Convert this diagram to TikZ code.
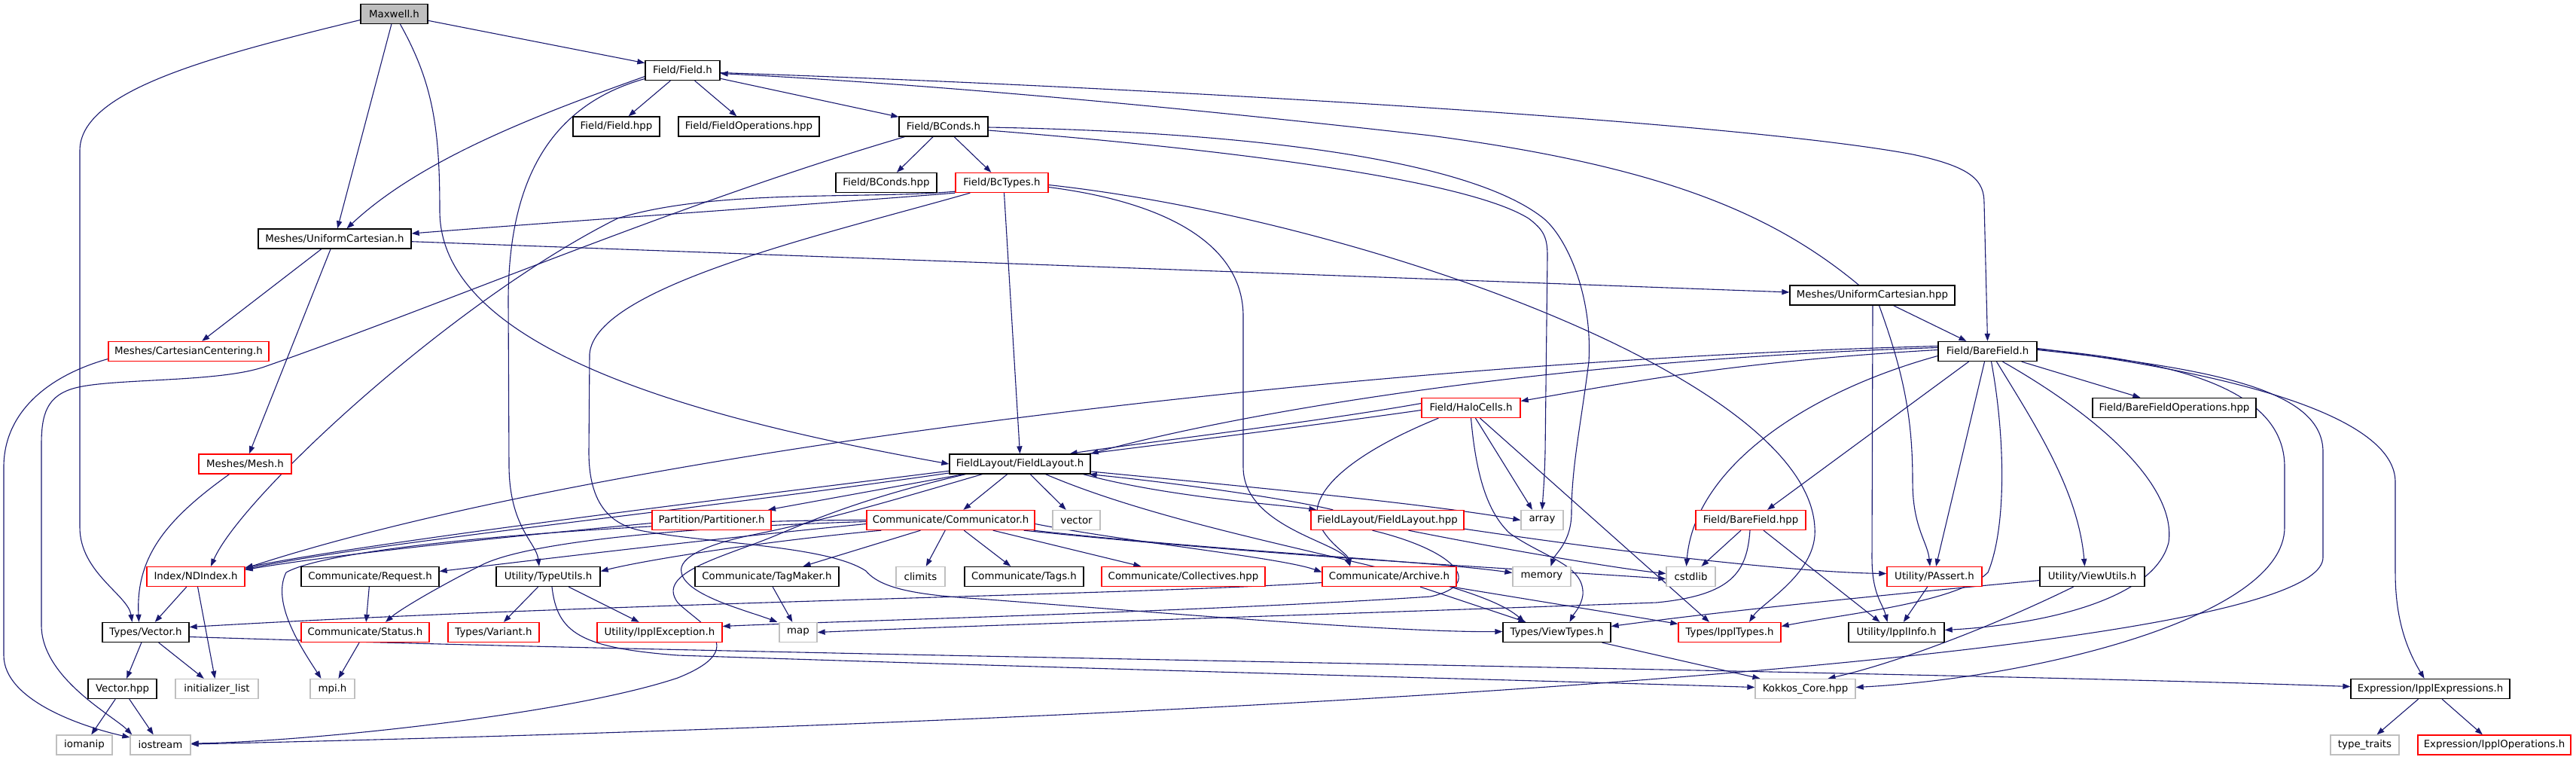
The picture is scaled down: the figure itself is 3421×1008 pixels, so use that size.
\documentclass[tikz,border=0pt]{standalone}
\usepackage{fontspec}
\setmainfont{DejaVu Sans}
\usetikzlibrary{arrows.meta,calc,backgrounds}
\definecolor{edgec}{HTML}{191970}
\definecolor{grayb}{HTML}{BFBFBF}
\tikzset{
  nd/.style={draw=black, line width=0.65pt, rectangle, inner sep=0pt, minimum height=13pt, font=\fontsize{6.67}{8}\selectfont, fill=white},
  rn/.style={nd, draw=red},
  gn/.style={nd, draw=grayb},
  e/.style={draw=edgec, line width=0.55pt, -{Triangle[length=5pt,width=3.6pt]}},
}
\begin{document}
\begin{tikzpicture}[x=0.5pt,y=-0.5pt]
\useasboundingbox (0,0) rectangle (3421,1008);
\node[nd, fill=grayb, minimum width=44.5pt] (maxwell) at (523.5,18.5) {Maxwell.h};
\node[nd, minimum width=49.5pt] (fieldh) at (906.5,93.5) {Field/Field.h};
\node[nd, minimum width=57.5pt] (fieldhpp) at (818.5,168) {Field/Field.hpp};
\node[nd, minimum width=93.5pt] (fieldops) at (994.5,168) {Field/FieldOperations.hpp};
\node[nd, minimum width=59pt] (bconds) at (1253,168) {Field/BConds.h};
\node[nd, minimum width=67pt] (bcondshpp) at (1177,242.5) {Field/BConds.hpp};
\node[rn, minimum width=61.5pt] (bctypes) at (1330.5,242.5) {Field/BcTypes.h};
\node[nd, minimum width=101.5pt] (uch) at (444.5,317) {Meshes/UniformCartesian.h};
\node[rn, minimum width=106.5pt] (cartcent) at (250.5,466.5) {Meshes/CartesianCentering.h};
\node[rn, minimum width=61.5pt] (mesh) at (325.5,616) {Meshes/Mesh.h};
\node[nd, minimum width=93.5pt] (flh) at (1354.5,616) {FieldLayout/FieldLayout.h};
\node[nd, minimum width=109.5pt] (uchpp) at (2486.5,392) {Meshes/UniformCartesian.hpp};
\node[rn, minimum width=65.5pt] (halo) at (1953.5,541.5) {Field/HaloCells.h};
\node[nd, minimum width=65.5pt] (barefield) at (2639.5,466.5) {Field/BareField.h};
\node[nd, minimum width=108.5pt] (bfops) at (2887.5,541.5) {Field/BareFieldOperations.hpp};
\node[rn, minimum width=65pt] (ndindex) at (260,765.5) {Index/NDIndex.h};
\node[nd, minimum width=91.5pt] (request) at (491.5,765.5) {Communicate/Request.h};
\node[nd, minimum width=69pt] (typeutils) at (728,765.5) {Utility/TypeUtils.h};
\node[nd, minimum width=57.5pt] (vector) at (193.5,839.5) {Types/Vector.h};
\node[rn, minimum width=85pt] (status) at (485,839.5) {Communicate/Status.h};
\node[rn, minimum width=60.5pt] (variant) at (655.5,839.5) {Types/Variant.h};
\node[rn, minimum width=83pt] (exception) at (876,839.5) {Utility/IpplException.h};
\node[nd, minimum width=45.5pt] (vectorhpp) at (162.5,914.5) {Vector.hpp};
\node[gn, minimum width=55pt] (initlist) at (288,914.5) {initializer\_list};
\node[gn, minimum width=29.5pt] (mpi) at (441.5,914.5) {mpi.h};
\node[gn, minimum width=37pt] (iomanip) at (112,989) {iomanip};
\node[gn, minimum width=40pt] (iostream) at (213,989) {iostream};
\node[rn, minimum width=79pt] (partitioner) at (945,690.5) {Partition/Partitioner.h};
\node[rn, minimum width=111.5pt] (communicator) at (1262.5,690.5) {Communicate/Communicator.h};
\node[gn, minimum width=31.5pt] (vectorstd) at (1429.5,690.5) {vector};
\node[nd, minimum width=95.5pt] (tagmaker) at (1018.5,765.5) {Communicate/TagMaker.h};
\node[gn, minimum width=32.5pt] (climits) at (1222.5,765.5) {climits};
\node[nd, minimum width=79pt] (tags) at (1360,765.5) {Communicate/Tags.h};
\node[rn, minimum width=108.5pt] (collectives) at (1571.5,765.5) {Communicate/Collectives.hpp};
\node[gn, minimum width=25pt] (map) at (1060,839.5) {map};
\node[rn, minimum width=101.5pt] (flhpp) at (1842.5,690.5) {FieldLayout/FieldLayout.hpp};
\node[gn, minimum width=28pt] (array) at (2048,690.5) {array};
\node[rn, minimum width=73pt] (bfhpp) at (2325,690.5) {Field/BareField.hpp};
\node[rn, minimum width=89pt] (archive) at (1845,765.5) {Communicate/Archive.h};
\node[gn, minimum width=38.5pt] (memory) at (2047.5,765.5) {memory};
\node[gn, minimum width=32.5pt] (cstdlib) at (2245.5,765.5) {cstdlib};
\node[rn, minimum width=63pt] (passert) at (2569,765.5) {Utility/PAssert.h};
\node[nd, minimum width=71.5pt] (viewtypes) at (2067.5,839.5) {Types/ViewTypes.h};
\node[rn, minimum width=68pt] (ippltypes) at (2297,839.5) {Types/IpplTypes.h};
\node[nd, minimum width=63.5pt] (ipplinfo) at (2518.5,839.5) {Utility/IpplInfo.h};
\node[gn, minimum width=66.5pt] (kokkos) at (2397.5,914.5) {Kokkos\_Core.hpp};
\node[nd, minimum width=69.5pt] (viewutils) at (2778.5,765.5) {Utility/ViewUtils.h};
\node[nd, minimum width=105.5pt] (expressions) at (3227.5,914.5) {Expression/IpplExpressions.h};
\node[gn, minimum width=45.5pt] (typetraits) at (3140.5,989) {type\_traits};
\node[rn, minimum width=101.5pt] (operations) at (3312.5,989) {Expression/IpplOperations.h};

\begin{pgfonlayer}{background}
% Maxwell
\draw[e] (maxwell) -- (fieldh);
\draw[e] (maxwell) -- (uch);
\draw[e] ($(maxwell.south)+(8,0)$) .. controls (575,110) and (584,170) .. (584,280) .. controls (584,470) and (950,560) .. (flh.west);
\draw[e] ($(maxwell.west)+(0,8)$) .. controls (280,75) and (106,120) .. (106,200) -- (106,700) .. controls (106,760) and (170,790) .. ($(vector.north)+(-18,0)$);
% Field.h
\draw[e] (fieldh) -- (fieldhpp);
\draw[e] (fieldh) -- (fieldops);
\draw[e] (fieldh) -- (bconds);
\draw[e] ($(fieldh.west)+(0,8)$) .. controls (720,150) and (560,210) .. ($(uch.north)+(16,0)$);
\draw[e] ($(fieldh.west)+(0,11)$) .. controls (730,140) and (675,240) .. (675,400) -- (676,620) .. controls (677,700) and (712,720) .. ($(typeutils.north)+(-12,0)$);
\draw[e] ($(fieldh.east)+(0,3)$) .. controls (1500,115) and (2300,160) .. (2540,205) .. controls (2620,222) and (2635,240) .. (2635,270) -- (barefield.north);
\draw[e] ($(uchpp.north)+(-18,0)$) .. controls (2350,280) and (2200,220) .. (1900,180) .. controls (1500,135) and (1200,110) .. ($(fieldh.east)+(0,4)$);
% BConds
\draw[e] (bconds) -- (bcondshpp);
\draw[e] (bconds) -- (bctypes);
\draw[e] ($(bconds.south west)+(8,0)$) .. controls (900,270) and (600,400) .. (351,487) .. controls (290,508) and (150,502) .. (100,515) .. controls (62,525) and (55,550) .. (55,590) -- (55,830) .. controls (55,900) and (150,950) .. ($(iostream.north west)+(3,0)$);
\draw[e] ($(bconds.east)+(0,1)$) .. controls (1650,175) and (1950,210) .. (2050,290) .. controls (2080,315) and (2115,390) .. (2110,480) .. controls (2100,560) and (2087,620) .. (2087,680) .. controls (2087,720) and (2065,735) .. ($(memory.north)+(12,0)$);
\draw[e] ($(bconds.east)+(0,5)$) .. controls (1650,200) and (1950,240) .. (2030,290) .. controls (2050,305) and (2055,315) .. (2055,340) -- (2052,600) .. controls (2051,640) and (2049,660) .. (array.north);
% BcTypes
\draw[e] (bctypes.south west) .. controls (1100,270) and (800,290) .. ($(uch.east)+(0,-7)$);
\draw[e] ($(bctypes.south west)+(0,-2)$) .. controls (1150,265) and (950,250) .. (820,290) .. controls (600,400) and (320,660) .. ($(ndindex.north)+(20,0)$);
\draw[e] ($(bctypes.south)+(3,0)$) -- (flh.north);
\draw[e] ($(bctypes.east)+(0,3)$) .. controls (1800,290) and (2400,500) .. (2410,700) .. controls (2415,760) and (2340,800) .. ($(ippltypes.north)+(26,0)$);
\draw[e] ($(bctypes.east)+(0,6)$) .. controls (1560,270) and (1651,330) .. (1651,420) -- (1651,620) .. controls (1651,700) and (1780,720) .. ($(archive.north)+(-52,0)$);
\draw[e] ($(bctypes.south west)+(20,0)$) .. controls (1100,310) and (790,380) .. (783,470) -- (782,600) .. controls (782,680) and (820,700) .. (860,706) .. controls (950,722) and (1100,725) .. (1150,758) .. controls (1170,782) and (1220,790) .. (1300,795) .. controls (1500,810) and (1850,840) .. ($(viewtypes.west)+(0,-1)$);
% UniformCartesian
\draw[e] (uch) -- (cartcent);
\draw[e] (uch) -- (mesh);
\draw[e] (uch) -- (uchpp);
\draw[e] ($(cartcent.west)+(0,10)$) .. controls (60,500) and (5,550) .. (5,620) -- (5,870) .. controls (5,930) and (110,965) .. ($(iostream.west)+(0,-10)$);
\draw[e] ($(mesh.south)+(-21,0)$) .. controls (220,690) and (180,740) .. ($(vector.north)+(-9,0)$);
\draw[e] (uchpp) -- (barefield);
\draw[e] ($(uchpp.south)+(0.5,0)$) -- (2486,740) .. controls (2486,790) and (2500,800) .. ($(ipplinfo.north)+(-12,0)$);
\draw[e] ($(uchpp.south)+(9,0)$) .. controls (2530,500) and (2540,560) .. (2540,640) .. controls (2540,700) and (2560,720) .. ($(passert.north)+(-6,0)$);
% FieldLayout
\draw[e] (flh) -- (partitioner);
\draw[e] (flh) -- (communicator);
\draw[e] (flh) -- (vectorstd);
\draw[e] ($(flh.west)+(0,12)$) .. controls (900,680) and (500,720) .. ($(ndindex.east)+(0,-10)$);
\draw[e] ($(flh.south east)+(-10,0)$) .. controls (1550,660) and (1700,670) .. ($(flhpp.north west)+(8,0)$);
\draw[e] ($(flhpp.north west)+(30,0)$) .. controls (1700,660) and (1550,640) .. ($(flh.south east)+(-2,0)$);
\draw[e] ($(flh.east)+(0,10)$) .. controls (1700,650) and (1900,670) .. (array.west);
\draw[e] ($(flh.south east)+(-60,0)$) .. controls (1600,720) and (1950,760) .. ($(viewtypes.north)+(-43,0)$);
\draw[e] ($(flh.south west)+(44,0)$) .. controls (1200,660) and (1100,690) .. (1000,710) .. controls (940,722) and (900,740) .. (905,760) .. controls (910,790) and (990,810) .. ($(map.north west)+(-2,0)$);
\draw[e] ($(flh.south west)+(22,0)$) .. controls (1150,660) and (1080,690) .. (1030,711) .. controls (960,740) and (870,760) .. (900,800) .. controls (930,830) and (1000,860) .. (900,900) .. controls (750,950) and (400,985) .. ($(iostream.east)+(0,-2)$);
% Partitioner
\draw[e] ($(partitioner.west)+(0,4)$) .. controls (700,710) and (450,735) .. ($(ndindex.east)+(0,-9)$);
% HaloCells
\draw[e] ($(halo.west)+(0,-6)$) .. controls (1750,560) and (1500,590) .. ($(flh.north east)+(-28,0)$);
\draw[e] ($(halo.west)+(0,3)$) .. controls (1500,600) and (600,700) .. ($(ndindex.east)+(0,-12)$);
\draw[e] ($(halo.south west)+(23,0)$) .. controls (1800,600) and (1740,650) .. (1750,690) .. controls (1760,720) and (1790,735) .. ($(archive.north)+(-52,0)$);
\draw[e] ($(halo.south)+(6,0)$) -- ($(array.north)+(-13,0)$);
\draw[e] ($(halo.south)+(12,0)$) -- ($(ippltypes.north)+(-27,0)$);
\draw[e] (halo.south) .. controls (1960,630) and (1975,680) .. (2005,708) .. controls (2050,740) and (2105,750) .. (2102,790) .. controls (2100,805) and (2090,815) .. ($(viewtypes.north)+(17,0)$);
% BareField
\draw[e] ($(barefield.west)+(0,-2)$) .. controls (2300,480) and (2150,510) .. ($(halo.east)+(0,-9)$);
\draw[e] ($(barefield.west)+(0,-5)$) .. controls (2000,480) and (1600,560) .. (flh.north east);
\draw[e] ($(barefield.west)+(0,-7)$) .. controls (1800,480) and (800,600) .. ($(ndindex.east)+(0,-11)$);
\draw[e] ($(barefield.west)+(0,6)$) .. controls (2400,520) and (2250,620) .. ($(cstdlib.north)+(-6,0)$);
\draw[e] ($(barefield.south)+(-25,0)$) -- ($(bfhpp.north)+(22,0)$);
\draw[e] (barefield) -- (bfops);
\draw[e] ($(barefield.south)+(-4,0)$) -- ($(passert.north)+(2,0)$);
\draw[e] ($(barefield.south)+(5,0)$) .. controls (2663,580) and (2665,700) .. (2640,760) .. controls (2600,800) and (2450,815) .. ($(ippltypes.east)+(0,-8)$);
\draw[e] ($(barefield.south)+(12,0)$) .. controls (2700,560) and (2760,650) .. ($(viewutils.north)+(-10,0)$);
\draw[e] ($(barefield.south)+(20,0)$) .. controls (2800,560) and (2890,650) .. (2880,720) .. controls (2860,800) and (2700,830) .. ($(ipplinfo.east)+(0,-3)$);
\draw[e] ($(barefield.east)+(0,-3)$) .. controls (2900,480) and (3034,520) .. (3034,620) -- (3034,700) .. controls (3034,820) and (2700,900) .. ($(kokkos.east)+(0,-2)$);
\draw[e] ($(barefield.east)+(0,-2)$) .. controls (2950,490) and (3085,520) .. (3085,600) -- (3085,740) .. controls (3085,880) and (1500,960) .. ($(iostream.east)+(0,-1)$);
\draw[e] ($(barefield.east)+(0,-4)$) .. controls (3000,500) and (3181,560) .. (3181,640) -- (3181,760) .. controls (3181,820) and (3195,860) .. ($(expressions.north)+(-8,0)$);
% BareField.hpp
\draw[e] ($(bfhpp.south)+(-13,0)$) -- ($(cstdlib.north)+(14,0)$);
\draw[e] ($(bfhpp.south)+(17,0)$) -- ($(ipplinfo.north)+(-22,0)$);
\draw[e] ($(bfhpp.south)+(-1,0)$) .. controls (2320,760) and (2300,790) .. (2200,800) .. controls (1700,818) and (1300,830) .. (map.east);
% FieldLayout.hpp
\draw[e] ($(flhpp.south)+(28,0)$) .. controls (2000,730) and (2150,755) .. ($(cstdlib.west)+(0,-4)$);
\draw[e] ($(flhpp.south east)+(0,-2)$) .. controls (2200,740) and (2400,760) .. ($(passert.west)+(0,-4)$);
\draw[e] ($(flhpp.south)+(-20,0)$) .. controls (1930,730) and (1975,775) .. (1900,792) .. controls (1600,812) and (1100,825) .. ($(exception.east)+(0,-8)$);
% Communicator
\draw[e] ($(communicator.south)+(-40,0)$) -- ($(tagmaker.north)+(48,0)$);
\draw[e] (communicator) -- (climits);
\draw[e] (communicator) -- (tags);
\draw[e] (communicator) -- (collectives);
\draw[e] ($(communicator.west)+(0,5)$) .. controls (900,720) and (700,745) .. ($(request.east)+(0,-7)$);
\draw[e] ($(communicator.south west)+(20,0)$) .. controls (1000,720) and (850,745) .. ($(typeutils.east)+(0,-7)$);
\draw[e] ($(communicator.west)+(0,2)$) .. controls (900,700) and (700,720) .. (640,750) .. controls (580,780) and (530,810) .. ($(status.north)+(27,0)$);
\draw[e] (communicator.west) .. controls (900,690) and (450,720) .. (380,760) .. controls (360,800) and (400,860) .. ($(mpi.north)+(-15,0)$);
\draw[e] ($(communicator.east)+(0,5)$) .. controls (1500,720) and (1700,740) .. ($(archive.west)+(0,-6)$);
\draw[e] ($(communicator.south east)+(-2,0)$) .. controls (1600,730) and (1900,745) .. ($(memory.west)+(0,-5)$);
\draw[e] ($(communicator.south east)+(-15,0)$) .. controls (1700,740) and (2100,760) .. ($(cstdlib.west)+(0,3)$);
% lower
\draw[e] (tagmaker) -- (map);
\draw[e] ($(archive.west)+(0,8)$) .. controls (1500,790) and (800,800) .. ($(vector.east)+(0,-7)$);
\draw[e] (ndindex) -- (vector);
\draw[e] (ndindex) -- (initlist);
\draw[e] (vector) -- (vectorhpp);
\draw[e] (vector) -- (initlist);
\draw[e] ($(vector.east)+(0,6)$) .. controls (1000,870) and (2500,890) .. ($(expressions.west)+(0,-3)$);
\draw[e] (vectorhpp) -- (iomanip);
\draw[e] (vectorhpp) -- (iostream);
\draw[e] (typeutils) -- (variant);
\draw[e] (typeutils) -- (exception);
\draw[e] ($(typeutils.south)+(5,0)$) .. controls (740,840) and (770,860) .. (900,870) .. controls (1500,890) and (2100,905) .. ($(kokkos.west)+(0,-2)$);
\draw[e] (request) -- (status);
\draw[e] (status) -- (mpi);
\draw[e] (archive) -- (viewtypes);
\draw[e] (archive) -- (ippltypes);
\draw[e] (passert) -- (ipplinfo);
\draw[e] (viewtypes) -- (kokkos);
\draw[e] ($(viewutils.west)+(0,5)$) .. controls (2500,790) and (2300,810) .. ($(viewtypes.east)+(0,-8)$);
\draw[e] ($(viewutils.south)+(-25,0)$) .. controls (2650,830) and (2520,880) .. ($(kokkos.north)+(30,0)$);
\draw[e] (expressions) -- (typetraits);
\draw[e] (expressions) -- (operations);
\end{pgfonlayer}
\end{tikzpicture}
\end{document}
